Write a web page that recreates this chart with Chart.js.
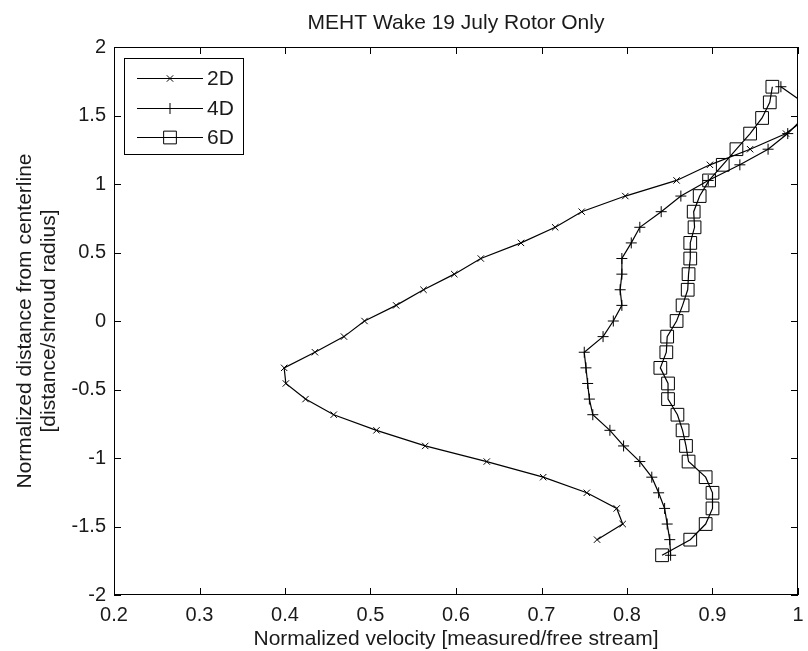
<!DOCTYPE html>
<html>
<head>
<meta charset="utf-8">
<title>MEHT Wake 19 July Rotor Only</title>
<script src="https://cdn.jsdelivr.net/npm/chart.js@4/dist/chart.umd.min.js"></script>
<style>
  html, body { margin: 0; padding: 0; background: #fff; }
  #wrap { width: 808px; height: 651px; }
</style>
</head>
<body>
<div id="wrap"><canvas id="wake" width="808" height="651"></canvas></div>
<script>
'use strict';
// normalized distance from centerline (same stations for every run)
var yPos = [-1.71, -1.596, -1.482, -1.368, -1.254, -1.14, -1.026, -0.912, -0.798, -0.684, -0.57,
  -0.456, -0.342, -0.228, -0.114, 0, 0.114, 0.228, 0.342, 0.456, 0.57, 0.684, 0.798, 0.912,
  1.026, 1.14, 1.254, 1.368, 1.482, 1.596, 1.71];
// normalized velocity, null = no reading at that station
var vel2D = [null, 0.765, 0.795, 0.788, 0.753, 0.702, 0.636, 0.564, 0.507, 0.457, 0.424,
  0.401, 0.399, 0.435, 0.469, 0.493, 0.530, 0.562, 0.598, 0.629, 0.676, 0.716, 0.747, 0.798,
  0.858, 0.897, 0.944, 0.986, 1.01, null, null];
var vel4D = [0.851, 0.850, 0.847, 0.844, 0.837, 0.829, 0.815, 0.796, 0.780, 0.760, 0.756,
  0.754, 0.752, 0.750, 0.772, 0.784, 0.794, 0.792, 0.794, 0.794, 0.805, 0.815, 0.840, 0.863,
  0.895, 0.932, 0.965, 0.988, 1.006, 1.006, 0.980];
var vel6D = [0.841, 0.874, 0.892, 0.900, 0.900, 0.892, 0.872, 0.869, 0.865, 0.859, 0.848,
  0.848, 0.839, 0.846, 0.847, 0.858, 0.865, 0.871, 0.872, 0.874, 0.874, 0.879, 0.878, 0.885,
  0.896, 0.912, 0.928, 0.944, 0.958, 0.967, 0.970];
var seriesNames = ['2D', '4D', '6D'];

var FONT = 'Liberation Sans, Arial, Helvetica, sans-serif';
var INK = '#000';
var TEXT = '#1a1a1a';

function toPoints(vel) {
  var pts = [];
  for (var i = 0; i < yPos.length; i++) {
    if (vel[i] !== null) pts.push({ x: vel[i], y: yPos[i] });
  }
  return pts;
}

// matlab style tick text: 2, 1.5, 1, 0.5 ... (no trailing .0)
function tickText(value) {
  return String(parseFloat(value.toFixed(2)));
}

// marker look per series (reused by the hand drawn legend)
var markers = [
  { style: 'crossRot', radius: 4.5 },
  { style: 'cross', radius: 5.5 },
  { style: 'rect', radius: 9 }
];

function drawMarker(ctx, m, x, y) {
  ctx.beginPath();
  if (m.style === 'crossRot') {
    var d = m.radius * Math.SQRT1_2;
    ctx.moveTo(x - d, y - d); ctx.lineTo(x + d, y + d);
    ctx.moveTo(x - d, y + d); ctx.lineTo(x + d, y - d);
  } else if (m.style === 'cross') {
    ctx.moveTo(x - m.radius, y); ctx.lineTo(x + m.radius, y);
    ctx.moveTo(x, y - m.radius); ctx.lineTo(x, y + m.radius);
  } else {
    var s = m.radius * Math.SQRT1_2;
    ctx.rect(x - s, y - s, 2 * s, 2 * s);
  }
  ctx.stroke();
}

// MATLAB style box with inward ticks on all four sides + legend
var matlabFrame = {
  id: 'matlabFrame',
  afterDraw: function(chart) {
    var ctx = chart.ctx;
    var a = chart.chartArea;
    var xs = chart.scales.x, ys = chart.scales.y;
    var tl = 7;
    ctx.save();
    ctx.strokeStyle = INK;
    ctx.lineWidth = 1;
    ctx.strokeRect(Math.round(a.left) + 0.5, Math.round(a.top) + 0.5,
      Math.round(a.right - a.left) - 1, Math.round(a.bottom - a.top) - 1);
    ctx.beginPath();
    xs.ticks.forEach(function(t) {
      var px = Math.round(xs.getPixelForValue(t.value)) + 0.5;
      ctx.moveTo(px, a.bottom); ctx.lineTo(px, a.bottom - tl);
      ctx.moveTo(px, a.top); ctx.lineTo(px, a.top + tl);
    });
    ys.ticks.forEach(function(t) {
      var py = Math.round(ys.getPixelForValue(t.value)) + 0.5;
      ctx.moveTo(a.left, py); ctx.lineTo(a.left + tl, py);
      ctx.moveTo(a.right, py); ctx.lineTo(a.right - tl, py);
    });
    ctx.stroke();

    // legend
    var lx = a.left + 10, ly = a.top + 11, lw = 119, lh = 96;
    ctx.fillStyle = '#fff';
    ctx.fillRect(lx, ly, lw, lh);
    ctx.strokeRect(lx + 0.5, ly + 0.5, lw, lh);
    ctx.font = '21px ' + FONT;
    ctx.textBaseline = 'middle';
    ctx.textAlign = 'left';
    seriesNames.forEach(function(name, i) {
      var ey = Math.round(ly + 20 + i * 29.5) + 0.5;
      ctx.strokeStyle = INK;
      ctx.lineWidth = 1.2;
      ctx.beginPath();
      ctx.moveTo(lx + 13, ey); ctx.lineTo(lx + 79, ey);
      ctx.stroke();
      ctx.lineWidth = 1;
      drawMarker(ctx, markers[i], lx + 46, ey);
      ctx.fillStyle = TEXT;
      ctx.fillText(name, lx + 83, ey + 1);
    });
    ctx.restore();
  }
};

function makeSet(label, vel, m) {
  return {
    label: label,
    data: toPoints(vel),
    showLine: true,
    borderColor: INK,
    borderWidth: 1.2,
    tension: 0,
    pointStyle: m.style,
    pointRadius: m.radius,
    pointHoverRadius: m.radius,
    pointBorderColor: INK,
    pointBorderWidth: 1,
    pointBackgroundColor: 'rgba(0,0,0,0)'
  };
}

var ctx = document.getElementById('wake').getContext('2d');
var wakeChart = new Chart(ctx, {
  type: 'scatter',
  data: {
    datasets: [
      makeSet(seriesNames[0], vel2D, markers[0]),
      makeSet(seriesNames[1], vel4D, markers[1]),
      makeSet(seriesNames[2], vel6D, markers[2])
    ]
  },
  options: {
    responsive: false,
    animation: false,
    events: [],
    layout: { padding: { left: 0, right: 1, top: 0, bottom: 0 } },
    plugins: {
      legend: { display: false },
      tooltip: { enabled: false },
      title: {
        display: true,
        fullSize: false,
        text: 'MEHT Wake 19 July Rotor Only',
        color: TEXT,
        font: { family: FONT, size: 21, weight: 'normal', lineHeight: 1.2 },
        padding: { top: 10.7, bottom: 11.1 }
      }
    },
    scales: {
      x: {
        type: 'linear',
        min: 0.2,
        max: 1.0,
        grid: { display: false, drawTicks: false },
        border: { display: false },
        ticks: {
          stepSize: 0.1,
          autoSkip: false,
          maxRotation: 0,
          padding: 8,
          color: TEXT,
          font: { family: FONT, size: 20 },
          callback: tickText
        },
        title: {
          display: true,
          text: 'Normalized velocity [measured/free stream]',
          color: TEXT,
          font: { family: FONT, size: 21, lineHeight: 1.15 },
          padding: { top: 0, bottom: 0 }
        },
        afterFit: function(scale) {
          scale.height = 56;
          scale.paddingLeft = 0;
          scale.paddingRight = 0;
        }
      },
      y: {
        type: 'linear',
        min: -2,
        max: 2,
        grid: { display: false, drawTicks: false },
        border: { display: false },
        ticks: {
          stepSize: 0.5,
          autoSkip: false,
          padding: 8,
          color: TEXT,
          font: { family: FONT, size: 20 },
          callback: tickText
        },
        title: {
          display: true,
          text: ['Normalized distance from centerline', '[distance/shroud radius]'],
          color: TEXT,
          font: { family: FONT, size: 21, lineHeight: 1.15 },
          padding: { top: 13, bottom: 0 }
        },
        afterFit: function(scale) {
          scale.width = 114;
          scale.paddingTop = 0;
          scale.paddingBottom = 0;
        }
      }
    }
  },
  plugins: [matlabFrame]
});
</script>
</body>
</html>
